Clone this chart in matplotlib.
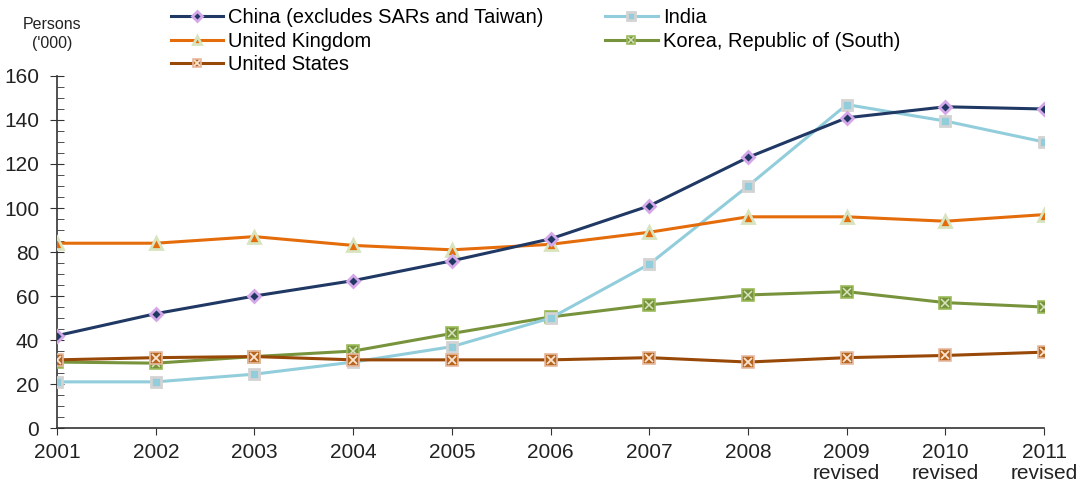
import numpy as np
import matplotlib.pyplot as plt
from matplotlib.legend_handler import HandlerTuple
from matplotlib.ticker import MultipleLocator

plt.rcParams['font.family'] = ['Liberation Sans', 'DejaVu Sans']

# Data (persons, '000)
YEARS = ['2001', '2002', '2003', '2004', '2005', '2006', '2007', '2008',
         '2009\nrevised', '2010\nrevised', '2011\nrevised']
china = [42, 52, 60, 67, 76, 86, 101, 123, 141, 146, 145]
india = [21, 21, 24.5, 30, 37, 50, 74.5, 110, 147, 139.5, 130]
uk = [84, 84, 87, 83, 81, 83.5, 89, 96, 96, 94, 97]
korea = [30, 29.5, 32.5, 35, 43, 50.5, 56, 60.5, 62, 57, 55]
usa = [31, 32, 32.5, 31, 31, 31, 32, 30, 32, 33, 34.5]

x = np.arange(len(YEARS))

fig = plt.figure(figsize=(10.77, 4.87), dpi=100)
ax = fig.add_axes([0.053, 0.121, 0.9165, 0.723])

lw = 2.2
h_china, = ax.plot(x, china, color='#1F3864', lw=lw, marker='D', ms=6.5,
                   mfc='#1F3864', mec='#D4A8E8', mew=2.0, zorder=5)
h_india, = ax.plot(x, india, color='#92CDDC', lw=lw, marker='s', ms=7.5,
                   mfc='#92CDDC', mec='#D3D3D3', mew=2.0, zorder=4)
h_uk, = ax.plot(x, uk, color='#E46C0A', lw=lw, marker='^', ms=8.5,
                mfc='#E46C0A', mec='#D7E4BD', mew=2.0, zorder=4)
h_korea, = ax.plot(x, korea, color='#77933C', lw=lw, marker='s', ms=8,
                   mfc='#77933C', mec='#9BBB59', mew=1.2, zorder=3)
h_korea_x, = ax.plot(x, korea, ls='none', marker='x', ms=5.5, mec='#D7E4BD',
                     mew=1.1, zorder=3)
h_usa, = ax.plot(x, usa, color='#984807', lw=lw, marker='s', ms=8,
                 mfc='#B5651D', mec='#E6B9A0', mew=1.2, zorder=6)
h_usa_x, = ax.plot(x, usa, ls='none', marker='x', ms=5.5, mec='#FBE3D0',
                   mew=1.3, zorder=6)

ax.set_xlim(0, len(YEARS) - 1)
ax.set_ylim(0, 160)
ax.set_xticks(x)
ax.set_xticklabels(YEARS, fontsize=15, color='#222222', linespacing=1.1)
ax.yaxis.set_major_locator(MultipleLocator(20))
ax.yaxis.set_minor_locator(MultipleLocator(5))
ax.tick_params(axis='y', which='major', direction='inout', length=10, pad=8,
               labelsize=15, labelcolor='#222222', color='#333333')
ax.tick_params(axis='y', which='minor', direction='in', length=5, color='#333333')
ax.tick_params(axis='x', direction='out', length=5, pad=6, color='#333333')
for s in ['top', 'right']:
    ax.spines[s].set_visible(False)
for s in ['left', 'bottom']:
    ax.spines[s].set_color('#333333')
    ax.spines[s].set_linewidth(1.2)

fig.text(0.048, 0.93, "Persons\n('000)", ha='center', va='center',
         fontsize=11.5, color='#222222', linespacing=1.35)

handles = [h_china, h_india, h_uk, (h_korea, h_korea_x), (h_usa, h_usa_x)]
labels = ['China (excludes SARs and Taiwan)', 'India', 'United Kingdom',
          'Korea, Republic of (South)', 'United States']
# reorder for column layout: col1 China, UK, US; col2 India, Korea
order = [0, 2, 4, 1, 3]
fig.legend([handles[i] for i in order], [labels[i] for i in order],
           handler_map={tuple: HandlerTuple(ndivide=1, pad=0)},
           loc='upper left', bbox_to_anchor=(0.142, 1.02), ncol=2,
           frameon=False, fontsize=14.5, handlelength=2.6, handletextpad=0.25,
           labelspacing=0.22, columnspacing=3.05, markerscale=0.75)

fig.savefig('out.png', dpi=100)
